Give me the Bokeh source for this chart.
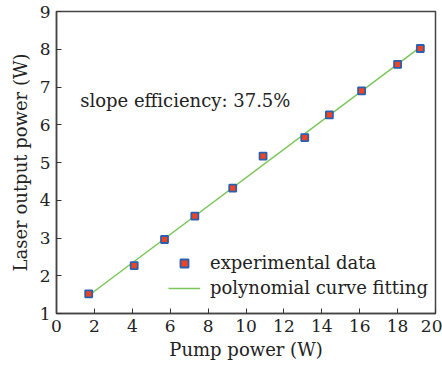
import numpy as np
from bokeh.plotting import figure
from bokeh.models import Range1d, SingleIntervalTicker, Legend, LegendItem, Label
from bokeh.embed import file_html
from bokeh.resources import INLINE

pump_power = [1.7, 4.1, 5.7, 7.3, 9.3, 10.9, 13.1, 14.4, 16.1, 18.0, 19.2]
output_power = [1.52, 2.27, 2.96, 3.58, 4.32, 5.17, 5.66, 6.26, 6.90, 7.60, 8.02]
annotation = "slope efficiency: 37.5%"

coef = np.polyfit(pump_power, output_power, 1)
fit_x = [pump_power[0], pump_power[-1]]
fit_y = list(np.polyval(coef, fit_x))

FONT = "DejaVu Serif"

p = figure(width=442, height=370, output_backend="svg", toolbar_location=None,
           x_range=Range1d(0, 20), y_range=Range1d(1, 9),
           min_border_left=56, min_border_right=7, min_border_top=11, min_border_bottom=57)

line_r = p.line(fit_x, fit_y, line_color="#7cc55a", line_width=1.5)
pts_r = p.scatter(pump_power, output_power, marker="square", size=7,
                  fill_color="#ee4422", line_color="#2b5fb0", line_width=1.8)

for ax in (p.xaxis[0], p.yaxis[0]):
    ax.major_tick_in = 5
    ax.major_tick_out = 0
    ax.minor_tick_in = 0
    ax.minor_tick_out = 0
    ax.axis_line_color = "#444444"
    ax.axis_line_width = 1.5
    ax.major_tick_line_color = "#333333"
    ax.major_label_text_font = FONT
    ax.major_label_text_font_size = "17px"
    ax.major_label_text_color = "#222222"
    ax.axis_label_text_font = FONT
    ax.axis_label_text_font_size = "18px"
    ax.axis_label_text_font_style = "normal"
    ax.axis_label_text_color = "#222222"

p.xaxis.ticker = SingleIntervalTicker(interval=2)
p.yaxis.ticker = SingleIntervalTicker(interval=1)
p.xaxis.axis_label = "Pump power (W)"
p.yaxis.axis_label = "Laser output power (W)"
p.xaxis.major_label_standoff = 6
p.yaxis.major_label_standoff = 6
p.xaxis.axis_label_standoff = 4
p.yaxis.axis_label_standoff = 6

p.xgrid.visible = False
p.ygrid.visible = False
p.outline_line_color = "#444444"
p.outline_line_width = 1.5

p.add_layout(Label(x=1.25, y=6.64, text=annotation, text_font=FONT,
                   text_font_size="18px", text_color="#222222",
                   text_baseline="middle"))

legend = Legend(items=[LegendItem(label="experimental data", renderers=[pts_r]),
                       LegendItem(label="polynomial curve fitting", renderers=[line_r])],
                location=(108, 11), border_line_alpha=0, background_fill_alpha=0,
                label_text_font=FONT, label_text_font_size="18px", label_text_color="#222222",
                glyph_width=32, spacing=4, padding=4, margin=0, label_standoff=10)
p.add_layout(legend)

open("out.html", "w").write(file_html(p, INLINE))
